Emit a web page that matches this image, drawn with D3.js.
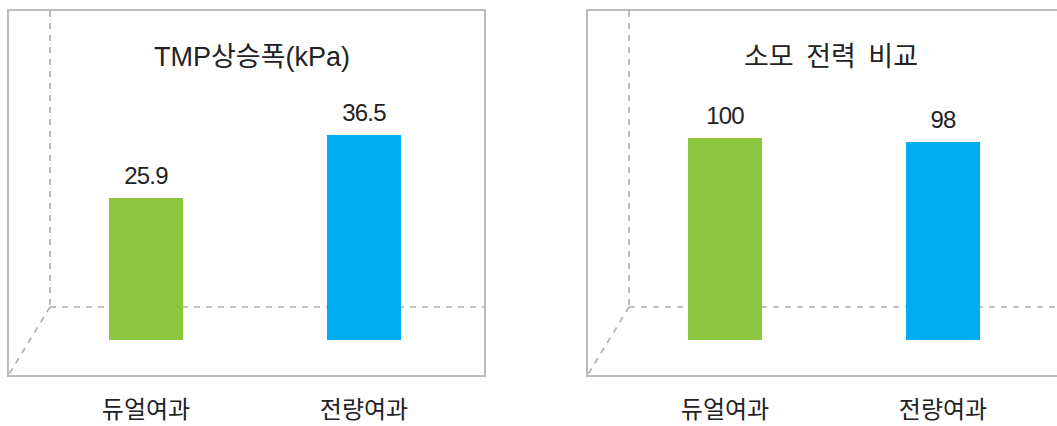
<!DOCTYPE html>
<html>
<head>
<meta charset="utf-8">
<script src="https://cdn.jsdelivr.net/npm/d3@7"></script>
<style>
  html, body { margin: 0; padding: 0; background: #fff; }
  svg { display: block; }
</style>
</head>
<body>
<svg id="chart" width="1057" height="426"></svg>
<script>
// ---- data ----
const categories = ["듀얼여과", "전량여과"];
const titles = ["TMP상승폭(kPa)", "소모 전력 비교"];
const tmpValues = [25.9, 36.5];
const tmpLabels = ["25.9", "36.5"];
const powerValues = [100, 98];
const powerLabels = ["100", "98"];
const barColors = ["#8dc63f", "#00aeef"];

// ---- layout ----
const svg = d3.select("#chart");
const FONT = "'Liberation Sans', 'Noto Sans CJK KR', sans-serif";
const panels = [
  { title: titles[0], values: tmpValues, labels: tmpLabels, domain: [2, 36.5], top: 135, offset: 0 },
  { title: titles[1], values: powerValues, labels: powerLabels, domain: [0, 100], top: 138, offset: 579 }
];

const base = 340;          // bar baseline
const floorY = 307;        // back floor line
const rectX = 8, rectY = 10, rectW = 477, rectH = 366;
const wallX = 50;

panels.forEach(p => {
  const g = svg.append("g").attr("transform", `translate(${p.offset},0)`);

  // frame
  g.append("rect")
    .attr("x", rectX).attr("y", rectY)
    .attr("width", rectW).attr("height", rectH)
    .attr("fill", "none").attr("stroke", "#bcbcbc").attr("stroke-width", 2);

  // dashed pseudo-3D guides
  const dashed = { stroke: "#adadad", "stroke-width": 1.6, "stroke-dasharray": "6,6" };
  const lines = [
    [wallX, rectY + 1, wallX, floorY],
    [wallX, floorY, rectX + rectW, floorY],
    [wallX, floorY, rectX, rectY + rectH]
  ];
  lines.forEach(l => {
    const ln = g.append("line")
      .attr("x1", l[0]).attr("y1", l[1]).attr("x2", l[2]).attr("y2", l[3]);
    Object.entries(dashed).forEach(([k, v]) => ln.attr(k, v));
  });

  // scales
  const x = d3.scaleBand()
    .domain(categories)
    .range([16, 494])
    .paddingInner(0.6606)
    .paddingOuter(0.4266);
  const y = d3.scaleLinear()
    .domain(p.domain)
    .range([base, p.top]);

  // bars
  g.selectAll("rect.bar")
    .data(p.values)
    .join("rect")
    .attr("class", "bar")
    .attr("x", (d, i) => x(categories[i]))
    .attr("width", x.bandwidth())
    .attr("y", d => y(d))
    .attr("height", d => base - y(d))
    .attr("fill", (d, i) => barColors[i]);

  // value labels
  g.selectAll("text.val")
    .data(p.values)
    .join("text")
    .attr("class", "val")
    .attr("x", (d, i) => x(categories[i]) + x.bandwidth() / 2)
    .attr("y", d => y(d) - 14)
    .attr("text-anchor", "middle")
    .attr("font-family", FONT)
    .attr("font-size", 24)
    .attr("letter-spacing", -0.8)
    .attr("fill", "#222")
    .text((d, i) => p.labels[i]);

  // category labels
  g.selectAll("text.cat")
    .data(categories)
    .join("text")
    .attr("class", "cat")
    .attr("x", d => x(d) + x.bandwidth() / 2)
    .attr("y", 418)
    .attr("text-anchor", "middle")
    .attr("font-family", FONT)
    .attr("font-size", 24)
    .attr("fill", "#222")
    .text(d => d);

  // title
  g.append("text")
    .attr("x", 252)
    .attr("y", 66)
    .attr("text-anchor", "middle")
    .attr("font-family", FONT)
    .attr("font-size", 27)
    .attr("word-spacing", 5)
    .attr("fill", "#222")
    .style("white-space", "pre")
    .text(p.title);
});
</script>
</body>
</html>
